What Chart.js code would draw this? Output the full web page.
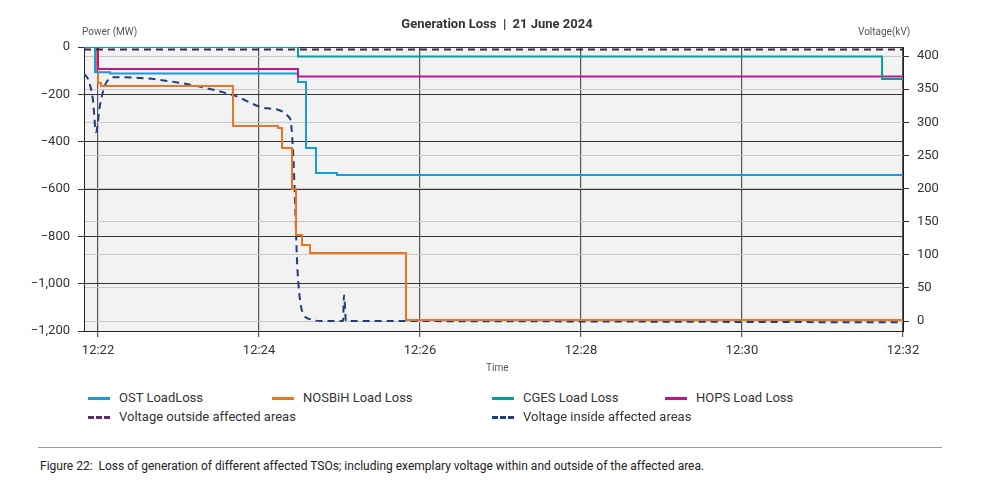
<!DOCTYPE html>
<html><head><meta charset="utf-8">
<script src="https://cdn.jsdelivr.net/npm/chart.js@4"></script>
<style>
body{margin:0;background:#fff;font-family:Roboto,sans-serif;color:#333;}
#wrap{position:relative;width:1004px;height:490px;}
canvas{position:absolute;left:0;top:0;}
.t{position:absolute;white-space:nowrap;}
.lg{position:absolute;font-size:13px;color:#333;}
.lg i{display:inline-block;width:22px;height:0;border-top:3px solid;vertical-align:middle;margin-right:9px;}
.lg i.d{border-top-style:dashed;}
</style></head><body>
<div id="wrap">
<canvas id="c" width="1004" height="380"></canvas>
<div class="t" style="left:0;width:994px;top:16px;text-align:center;font-weight:bold;font-size:13px;">Generation Loss &nbsp;|&nbsp; 21 June 2024</div>
<div class="t" style="left:82px;top:26px;font-size:10px;color:#555;">Power (MW)</div>
<div class="t" style="left:858px;top:26px;font-size:10px;color:#555;">Voltage(kV)</div>
<div class="t" style="left:486px;top:362px;font-size:10px;color:#555;">Time</div>
<div class="lg" style="left:88px;top:390px;"><i style="border-color:#1a9ad6"></i>OST LoadLoss</div>
<div class="lg" style="left:272px;top:390px;"><i style="border-color:#e87722"></i>NOSBiH Load Loss</div>
<div class="lg" style="left:492px;top:390px;"><i style="border-color:#00a19a"></i>CGES Load Loss</div>
<div class="lg" style="left:665px;top:390px;"><i style="border-color:#c0168a"></i>HOPS Load Loss</div>
<div class="lg" style="left:88px;top:409px;"><i class="d" style="border-color:#5b2c6f"></i>Voltage outside affected areas</div>
<div class="lg" style="left:492px;top:409px;"><i class="d" style="border-color:#1f3e7a"></i>Voltage inside affected areas</div>
<div style="position:absolute;left:38px;top:447px;width:904px;border-top:1px solid #999;"></div>
<div class="t" style="left:40px;top:459px;font-size:12px;color:#222;">Figure 22:&nbsp; Loss of generation of different affected TSOs; including exemplary voltage within and outside of the affected area.</div>
</div>
<script>
// time in minutes after 12:00
const xTickLabels = ['12:22','12:24','12:26','12:28','12:30','12:32'];
const ostT   = [21.826,21.963,22.149,24.484,24.584,24.708,24.969,32];
const ostV   = [0,-107,-112,-148,-427,-532,-541,-541];
const nosT   = [21.826,21.975,22.0,22.037,23.677,24.236,24.286,24.41,24.46,24.534,24.634,25.826,32];
const nosV   = [0,-106,-152,-165,-334,-342,-427,-600,-794,-837,-870,-1153,-1160];
const cgesT  = [21.826,24.484,31.74,32];
const cgesV  = [0,-40,-135,-135];
const hopsT  = [21.826,22.0,24.484,32];
const hopsV  = [0,-93,-125,-125];
const voutT  = [21.826,32];
const voutV  = [410,410];
const vinT   = [21.826,21.876,21.938,21.975,22.025,22.087,22.211,22.77,23.677,24.099,24.385,24.422,24.447,24.472,24.509,24.559,24.634,24.758,25.044,25.056,25.081,25.106,32];
const vinV   = [373,365,333,285,326,356,368,364,341,321,306,259,183,92,32,9,3,0,0,39,0,0,-2];

const pts=(t,v)=>t.map((x,i)=>({x,y:v[i]}));
const bg={id:'bg',beforeDraw(c){const a=c.chartArea,g=c.ctx;g.save();g.fillStyle='#f2f2f2';g.fillRect(a.left,a.top,a.right-a.left,a.bottom-a.top);g.restore();}};
const tickFont={family:"Roboto,sans-serif",size:13};
new Chart(document.getElementById('c'),{
 type:'line',
 data:{datasets:[
  {data:pts(voutT,voutV),yAxisID:'y2',borderColor:'#3a2a45',borderDash:[7,5],borderWidth:2,pointRadius:0},
  {data:pts(cgesT,cgesV),yAxisID:'y',borderColor:'#00a19a',borderWidth:2,pointRadius:0,stepped:true},
  {data:pts(hopsT,hopsV),yAxisID:'y',borderColor:'#c0168a',borderWidth:2,pointRadius:0,stepped:true},
  {data:pts(ostT,ostV),yAxisID:'y',borderColor:'#1a9ad6',borderWidth:2,pointRadius:0,stepped:true},
  {data:pts(nosT,nosV),yAxisID:'y',borderColor:'#e87722',borderWidth:2,pointRadius:0,stepped:true},
  {data:pts(vinT,vinV),yAxisID:'y2',borderColor:'#1f3e7a',borderDash:[7,5],borderWidth:2,pointRadius:0,cubicInterpolationMode:'monotone'}
 ]},
 options:{responsive:false,animation:false,
  layout:{padding:{top:47,left:0,right:0,bottom:0}},
  plugins:{legend:{display:false},tooltip:{enabled:false}},
  scales:{
   x:{type:'linear',min:21.826,max:32,
      afterBuildTicks(s){s.ticks=[22,24,26,28,30,32].map(v=>({value:v}));},
      afterFit(s){s.height=49;},
      ticks:{font:tickFont,color:'#333',padding:6,callback:(v)=>xTickLabels[[22,24,26,28,30,32].indexOf(v)]},
      grid:{color:'#555',lineWidth:1.2,drawTicks:true,tickLength:6},border:{color:'#222'}},
   y:{position:'left',min:-1200,max:0,
      afterBuildTicks(s){s.ticks=[0,-200,-400,-600,-800,-1000,-1200].map(v=>({value:v}));},
      afterFit(s){s.width=84;},
      ticks:{font:tickFont,color:'#333',padding:8,callback:v=>v.toLocaleString('en-US').replace('-','\u2212')},
      grid:{color:'#333',lineWidth:1,tickLength:6},border:{color:'#222'}},
   y2:{position:'right',min:-15,max:413.6,
      afterBuildTicks(s){s.ticks=[0,50,100,150,200,250,300,350,400].map(v=>({value:v}));},
      afterFit(s){s.width=101;},
      ticks:{font:tickFont,color:'#333',padding:8},
      grid:{color:'#c8c8c8',lineWidth:1,tickLength:6,tickColor:'#333'},border:{color:'#222'}}
  }},
 plugins:[bg]
});
</script>
</body></html>
